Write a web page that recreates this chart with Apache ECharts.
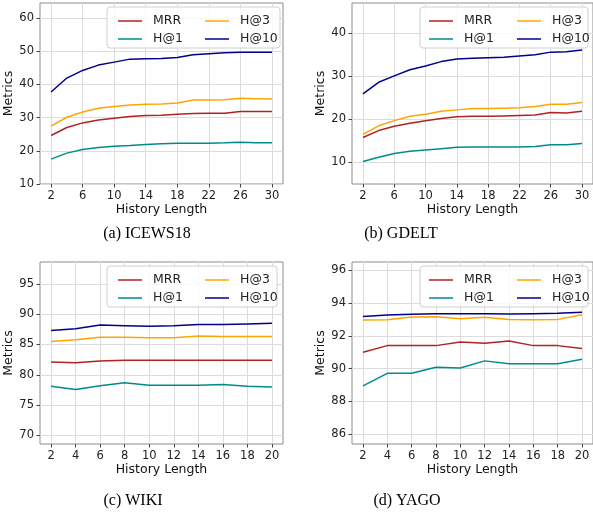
<!DOCTYPE html>
<html>
<head>
<meta charset="utf-8">
<script src="https://cdn.jsdelivr.net/npm/echarts@6/dist/echarts.min.js"></script>
<style>
html,body{margin:0;padding:0;background:#fff}
#main{width:593px;height:517px}
</style>
</head>
<body>
<div id="main"></div>
<script>
// history lengths
var xLong = [2,4,6,8,10,12,14,16,18,20,22,24,26,28,30];
var xShort = [2,4,6,8,10,12,14,16,18,20];
var xLongTicks = [2,6,10,14,18,22,26,30];
var xShortTicks = [2,4,6,8,10,12,14,16,18,20];

// (a) ICEWS18
var icewsMRR = [24.6,27.0,28.4,29.3,29.8,30.3,30.6,30.7,31.0,31.2,31.3,31.3,31.8,31.8,31.8];
var icewsH1  = [17.5,19.3,20.4,21.0,21.4,21.6,21.9,22.1,22.3,22.3,22.3,22.4,22.6,22.4,22.4];
var icewsH3  = [27.4,30.1,31.7,32.8,33.3,33.8,34.0,34.1,34.4,35.3,35.3,35.4,35.8,35.7,35.6];
var icewsH10 = [37.7,41.9,44.2,45.8,46.7,47.6,47.7,47.8,48.1,48.9,49.2,49.5,49.7,49.7,49.7];
var icewsTicks = [10,20,30,40,50,60];

// (b) GDELT
var gdeltMRR = [15.8,17.4,18.4,19.1,19.7,20.2,20.6,20.7,20.7,20.8,20.9,21.0,21.6,21.5,21.9];
var gdeltH1  = [10.2,11.2,12.1,12.6,12.9,13.2,13.5,13.6,13.6,13.6,13.6,13.7,14.1,14.1,14.4];
var gdeltH3  = [16.5,18.5,19.7,20.7,21.2,21.9,22.2,22.5,22.5,22.6,22.7,23.0,23.5,23.5,23.9];
var gdeltH10 = [25.9,28.6,30.1,31.5,32.4,33.4,34.0,34.2,34.3,34.4,34.7,35.0,35.6,35.7,36.1];
var gdeltTicks = [10,20,30,40];

// (c) WIKI
var wikiMRR = [82.1,82.0,82.3,82.4,82.4,82.4,82.4,82.4,82.4,82.4];
var wikiH1  = [78.1,77.6,78.2,78.7,78.3,78.3,78.3,78.4,78.1,78.0];
var wikiH3  = [85.5,85.8,86.2,86.2,86.1,86.1,86.4,86.3,86.3,86.3];
var wikiH10 = [87.3,87.6,88.2,88.1,88.0,88.1,88.3,88.3,88.4,88.5];
var wikiTicks = [70,75,80,85,90,95];

// (d) YAGO
var yagoMRR = [91.0,91.4,91.4,91.4,91.62,91.55,91.68,91.4,91.4,91.22];
var yagoH1  = [88.94,89.71,89.71,90.08,90.04,90.47,90.29,90.29,90.29,90.57];
var yagoH3  = [92.96,92.98,93.14,93.16,93.04,93.13,93.0,92.98,93.0,93.28];
var yagoH10 = [93.18,93.27,93.32,93.35,93.35,93.35,93.33,93.35,93.37,93.43];
var yagoTicks = [86,88,90,92,94,96];

var metricNames = ['MRR','H@1','H@3','H@10'];
var captions = ['(a) ICEWS18','(b) GDELT','(c) WIKI','(d) YAGO'];

var colors = {'MRR':'#b22222','H@1':'#008b8b','H@3':'#ffa500','H@10':'#00008b'};

var panels = [
  {left:40, top:3, width:243, height:181, x:xLong, xMin:0.6, xMax:31.4, xTicks:xLongTicks,
   yMin:10, yMax:64.5, yTicks:icewsTicks, vals:[icewsMRR,icewsH1,icewsH3,icewsH10], cap:[142,221]},
  {left:352, top:3, width:242, height:181, x:xLong, xMin:0.6, xMax:31.4, xTicks:xLongTicks,
   yMin:5, yMax:47, yTicks:gdeltTicks, vals:[gdeltMRR,gdeltH1,gdeltH3,gdeltH10], cap:[396,221]},
  {left:40, top:262, width:243, height:182, x:xShort, xMin:1.1, xMax:20.9, xTicks:xShortTicks,
   yMin:68.6, yMax:98.6, yTicks:wikiTicks, vals:[wikiMRR,wikiH1,wikiH3,wikiH10], cap:[128,488]},
  {left:352, top:262, width:242, height:182, x:xShort, xMin:1.1, xMax:20.9, xTicks:xShortTicks,
   yMin:85.4, yMax:96.5, yTicks:yagoTicks, vals:[yagoMRR,yagoH1,yagoH3,yagoH10], cap:[402,488]}
];
// legend anchors (left of first/second column, box)
var legendPos = [
  {c1:113, c2:200, box:[107,7,173,41]},
  {c1:424, c2:512, box:[420,7,168,41]},
  {c1:113, c2:200, box:[107,266,170,41]},
  {c1:424, c2:512, box:[420,266,168,41]}
];

var font = 'DejaVu Sans';
var grids = [], xAxes = [], yAxes = [], series = [], legends = [], titles = [], graphics = [];

panels.forEach(function(p, i){
  grids.push({left:p.left, top:p.top, width:p.width, height:p.height, show:true,
    borderColor:'#8c8c8c', borderWidth:1, backgroundColor:'transparent'});
  xAxes.push({type:'value', gridIndex:i, min:p.xMin, max:p.xMax,
    name:'History Length', nameLocation:'middle', nameGap:15,
    nameTextStyle:{fontFamily:font, fontSize:12.5, color:'#111'},
    axisLine:{show:false},
    axisTick:{show:true, length:3.5, customValues:p.xTicks, lineStyle:{color:'#444'}},
    axisLabel:{customValues:p.xTicks, margin:6, fontFamily:font, fontSize:11.5, color:'#222'},
    splitLine:{show:true, lineStyle:{color:'#dcdcdc', width:1}}
  });
  yAxes.push({type:'value', gridIndex:i, min:p.yMin, max:p.yMax,
    name:'Metrics', nameLocation:'middle', nameGap:17,
    nameTextStyle:{fontFamily:font, fontSize:12.5, color:'#111'},
    axisLine:{show:false},
    axisTick:{show:true, length:3.5, customValues:p.yTicks, lineStyle:{color:'#444'}},
    axisLabel:{customValues:p.yTicks, margin:6, fontFamily:font, fontSize:11.5, color:'#222'},
    splitLine:{show:true, lineStyle:{color:'#dcdcdc', width:1}}
  });
  metricNames.forEach(function(m, k){
    series.push({type:'line', name:m, xAxisIndex:i, yAxisIndex:i,
      data:p.x.map(function(xv, j){ return [xv, p.vals[k][j]]; }),
      symbol:'none', lineStyle:{width:1.5, color:colors[m]}, itemStyle:{color:colors[m]}, z:2});
  });
  var L = legendPos[i];
  [[L.c1, ['MRR','H@1']], [L.c2, ['H@3','H@10']]].forEach(function(c){
    legends.push({orient:'vertical', left:c[0], top:p.top + 6, data:c[1],
      icon:'rect', itemWidth:24, itemHeight:2, itemGap:4, selectedMode:false,
      itemStyle:{opacity:0.75},
      textStyle:{fontFamily:font, fontSize:12.5, color:'#222', lineHeight:14, padding:[0,0,0,6]}});
  });
  graphics.push({type:'rect', z:3, shape:{x:L.box[0], y:L.box[1], width:L.box[2], height:L.box[3], r:3},
    style:{fill:'rgba(255,255,255,0.8)', stroke:'#d0d0d0', lineWidth:1}});
  titles.push({text:captions[i], left:p.cap[0], top:p.cap[1], textAlign:'center',
    textStyle:{fontFamily:'Liberation Serif', fontSize:16, fontWeight:'normal', color:'#000'}});
});

var myChart = echarts.init(document.getElementById('main'));
myChart.setOption({
  animation:false,
  title:titles,
  grid:grids,
  xAxis:xAxes,
  yAxis:yAxes,
  legend:legends,
  graphic:graphics,
  series:series
});
</script>
</body>
</html>
